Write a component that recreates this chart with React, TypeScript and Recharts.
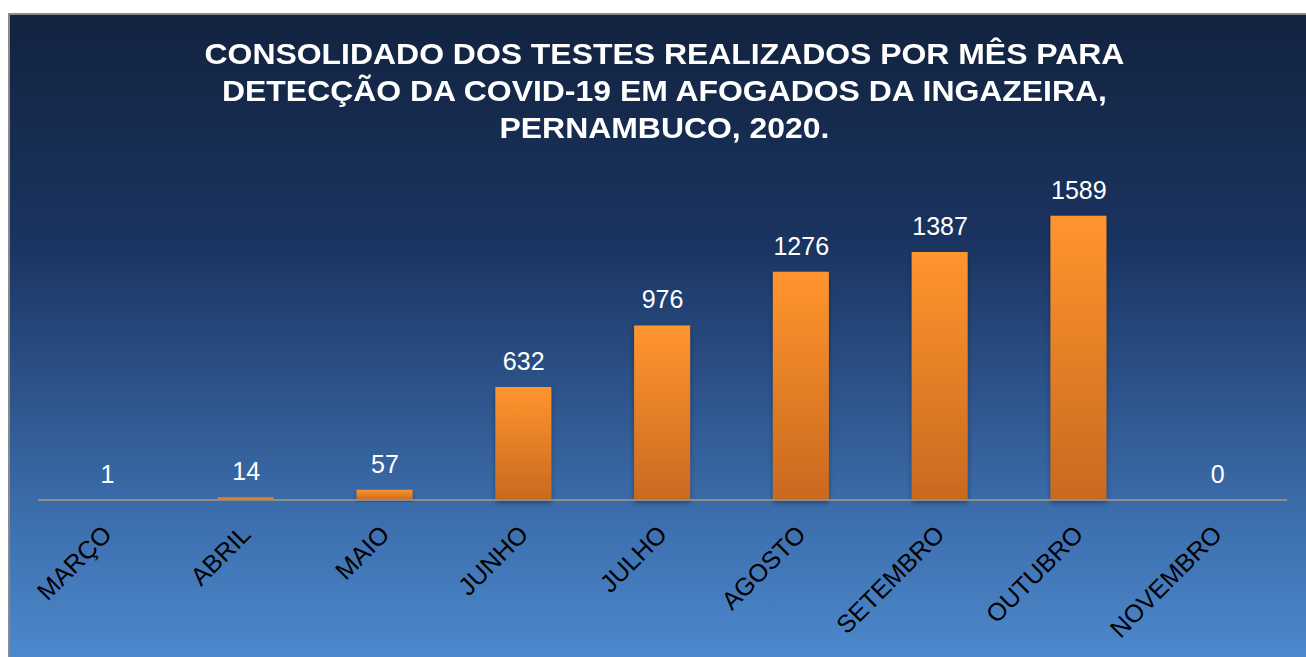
// @ts-nocheck

import React from "react";
import { ComposedChart, Bar, Line, XAxis, YAxis, LabelList } from "recharts";

const months = ["MARÇO", "ABRIL", "MAIO", "JUNHO", "JULHO", "AGOSTO", "SETEMBRO", "OUTUBRO", "NOVEMBRO"];
const tests = [1, 14, 57, 632, 976, 1276, 1387, 1589, 0];
const titleLines = [
  "CONSOLIDADO DOS TESTES REALIZADOS POR MÊS PARA",
  "DETECÇÃO DA COVID-19 EM AFOGADOS DA INGAZEIRA,",
  "PERNAMBUCO, 2020.",
];

const data = months.map((m, i) => ({ month: m, value: tests[i] }));

const FONT = "Liberation Sans, Arial, sans-serif";

const MonthTick = ({ x, y, payload }) => (
  <text
    x={x + 6}
    y={y + 28}
    transform={`rotate(-45, ${x + 6}, ${y + 28})`}
    textAnchor="end"
    fill="#000"
    fontSize={25}
    fontFamily={FONT}
  >
    {payload.value}
  </text>
);

// labels are hung on an invisible line so that the zero month keeps its "0"
const ValueLabel = (props) => {
  const { x, y, value } = props;
  return (
    <text x={x} y={y - 17} textAnchor="middle" fill="#fff" fontSize={25} fontFamily={FONT}>
      {value}
    </text>
  );
};

const App = () => {
  return (
    <div
      style={{
        position: "fixed",
        left: 8,
        top: 13,
        width: 1298,
        height: 644,
        borderLeft: "2px solid #8a8a8a",
        borderTop: "2px solid #8a8a8a",
        boxSizing: "border-box",
        background: "linear-gradient(to bottom, #12233f 0%, #1a3360 35%, #3a6aa8 75%, #4c88cc 100%)",
        overflow: "hidden",
      }}
    >
      <div
        style={{
          position: "absolute",
          left: 0,
          top: 20,
          width: "100%",
          paddingLeft: 14,
          boxSizing: "border-box",
          textAlign: "center",
          color: "#fff",
          fontFamily: FONT,
          fontWeight: "bold",
          fontSize: 30,
          lineHeight: "37px",
          transform: "scaleX(1.064)",
          transformOrigin: "663px 0",
        }}
      >
        {titleLines.map((t) => (
          <div key={t}>{t}</div>
        ))}
      </div>
      <ComposedChart
        width={1296}
        height={642}
        data={data}
        margin={{ top: 163, right: 19, left: 28, bottom: 0 }}
        barCategoryGap={0}
      >
        <defs>
          <linearGradient id="barFill" x1="0" y1="0" x2="0" y2="1">
            <stop offset="0%" stopColor="#ff952e" />
            <stop offset="100%" stopColor="#c9691f" />
          </linearGradient>
          <filter id="barShadow" x="-20%" y="-5%" width="140%" height="115%">
            <feDropShadow dx="0" dy="3" stdDeviation="2.5" floodColor="#000" floodOpacity="0.35" />
          </filter>
        </defs>
        <XAxis
          dataKey="month"
          height={157}
          axisLine={{ stroke: "#8c8c8c", strokeWidth: 2 }}
          tickLine={false}
          interval={0}
          tick={<MonthTick />}
        />
        <YAxis hide domain={[0, 1800]} />
        <Bar
          dataKey="value"
          barSize={56}
          fill="url(#barFill)"
          filter="url(#barShadow)"
          isAnimationActive={false}
        />
        <Line
          dataKey="value"
          stroke="none"
          dot={false}
          activeDot={false}
          isAnimationActive={false}
        >
          <LabelList dataKey="value" content={ValueLabel} />
        </Line>
      </ComposedChart>
    </div>
  );
};

export default App;
